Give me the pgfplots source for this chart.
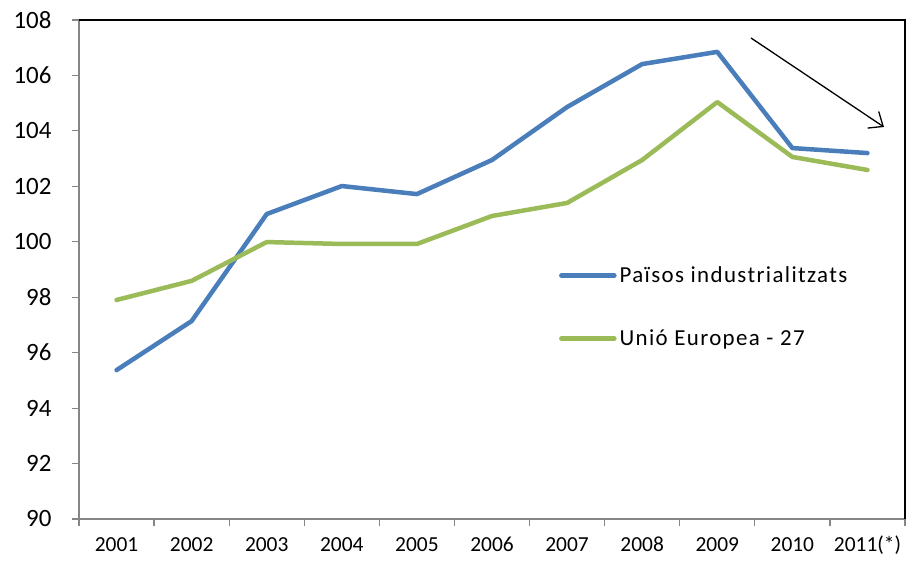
\documentclass[border=0pt]{standalone}
\usepackage{fontspec}
\setmainfont{Carlito}
\usepackage{pgfplots}
\pgfplotsset{compat=1.18}
\usetikzlibrary{arrows.meta}

\definecolor{serblue}{HTML}{4A7EBB}
\definecolor{sergreen}{HTML}{9BBB59}
\definecolor{axgray}{HTML}{868686}

\begin{document}
\begin{tikzpicture}
\begin{axis}[
  name=ax,
  width=826bp, height=499bp, scale only axis,
  xmin=-0.5, xmax=10.5,
  ymin=90, ymax=108,
  ytick={90,92,...,108},
  xtick={-0.5,0.5,...,10.5},
  xticklabels={2001,2002,2003,2004,2005,2006,2007,2008,2009,2010,2011(*)},
  x tick label as interval,
  axis line style={draw=none},
  tick align=outside,
  tick pos=left,
  major tick length=7bp,
  tick style={axgray, line width=1.2bp},
  /pgf/number format/assume math mode=true,
  yticklabel style={font=\fontsize{25}{29}\selectfont, xshift=-17bp},
  xticklabel style={font=\fontsize{21.5}{25}\selectfont,
    text height=0.64em, text depth=0.2em, yshift=-16bp},
  legend style={draw=none, fill=none, inner sep=0pt,
    at={(rel axis cs:0.581,0.512)}, anchor=north west,
    font=\fontsize{23}{27}\selectfont\addfontfeatures{LetterSpace=6},
    row sep=40bp, nodes={inner sep=3bp}},
  legend cell align=left,
  legend image code/.code={\draw[#1, line cap=round] (0bp,0bp) -- (53bp,0bp);},
  clip=false,
]
\draw[axgray, line width=1.5bp] (rel axis cs:0,1) -- (rel axis cs:0,0) -- (rel axis cs:1,0);
\draw[black, line width=1.5bp] (rel axis cs:0,1) -- (rel axis cs:1,1) -- (rel axis cs:1,0);

\addplot[serblue, line width=4.5bp, line join=round, line cap=round] coordinates {
  (0,95.37) (1,97.14) (2,101.0) (3,102.01) (4,101.72) (5,102.95)
  (6,104.86) (7,106.41) (8,106.85) (9,103.38) (10,103.2)
};
\addlegendentry{Països industrialitzats}
\addplot[sergreen, line width=4.5bp, line join=round, line cap=round] coordinates {
  (0,97.9) (1,98.59) (2,99.99) (3,99.92) (4,99.92) (5,100.93)
  (6,101.4) (7,102.95) (8,105.04) (9,103.06) (10,102.59)
};
\addlegendentry{Unió Europea - 27}

\draw[black, line width=1.3bp, -{Straight Barb[length=12bp, width=20bp]}]
  (axis cs:8.45,107.35) -- (axis cs:10.22,104.14);
\end{axis}
\path (ax.south west) ++(-79bp,-42bp) rectangle ++(906bp,561bp);
\end{tikzpicture}
\end{document}
